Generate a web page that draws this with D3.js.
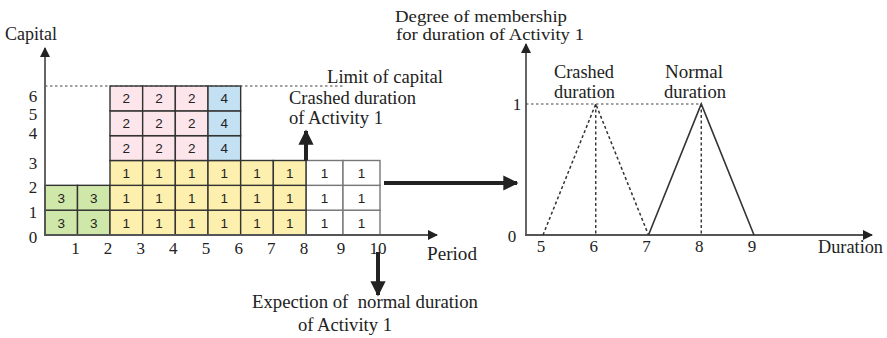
<!DOCTYPE html>
<html>
<head>
<meta charset="utf-8">
<script src="https://cdn.jsdelivr.net/npm/d3@7"></script>
<style>
  body { margin: 0; background: #fff; }
  svg { display: block; }
  .serif { font-family: "Liberation Serif", "Times New Roman", serif; fill: #222; }
  .cellnum { font-family: "Liberation Sans", Arial, sans-serif; font-size: 13.5px; fill: #222; }
</style>
</head>
<body>
<svg id="chart" width="887" height="338"></svg>
<script>
// Capital schedule: blocks of unit cells (activity number, period span, capital span)
const activities = [3, 1, 2, 4, 1];
const periodStart = [0, 2, 2, 5, 8];
const periodEnd   = [2, 8, 5, 6, 10];
const capitalFrom = [0, 0, 3, 3, 0];
const capitalTo   = [2, 3, 6, 6, 3];
const blockFill   = ["#cfe8a9", "#fdf0ae", "#fce5eb", "#c3e1f3", "#ffffff"];
const blockStroke = ["#333", "#333", "#333", "#333", "#777"];

const periodTicks = [1, 2, 3, 4, 5, 6, 7, 8, 9, 10];
const capitalTicks = [0, 1, 2, 3, 4, 5, 6];
const capitalLimit = 6;

// Fuzzy membership of Activity 1's duration
const crashedDur = [5, 6, 7];
const crashedMem = [0, 1, 0];
const normalDur  = [7, 8, 9];
const normalMem  = [0, 1, 0];
const durationTicks = [5, 6, 7, 8, 9];

const svg = d3.select("#chart");
const ink = "#222";

svg.append("defs").selectAll("marker")
  .data([{ id: "headThin", w: 14, h: 10 }, { id: "headThick", w: 4.2, h: 3.8 }])
  .join("marker")
  .attr("id", d => d.id)
  .attr("viewBox", "0 0 10 10")
  .attr("refX", 9).attr("refY", 5)
  .attr("markerUnits", d => d.id === "headThin" ? "userSpaceOnUse" : "strokeWidth")
  .attr("markerWidth", d => d.w).attr("markerHeight", d => d.h)
  .attr("orient", "auto")
  .append("path").attr("d", "M0,0 L10,5 L0,10 Z").attr("fill", ink);

// serif caption helper: start x, baseline y, fitted width
function label(g, str, x0, y0, w, size = 18) {
  return g.append("text").attr("class", "serif")
    .attr("x", x0).attr("y", y0).attr("font-size", size)
    .attr("textLength", w).attr("lengthAdjust", "spacingAndGlyphs")
    .attr("xml:space", "preserve")
    .text(str);
}

// ---------- left panel: capital vs period ----------
const x = d3.scaleLinear().domain([0, 2, 8, 10]).range([45, 110, 306, 380]);
const y = d3.scaleLinear().domain([0, 6]).range([235, 86]);

const cells = [];
activities.forEach((a, i) => {
  d3.range(periodStart[i], periodEnd[i]).forEach(p => {
    d3.range(capitalFrom[i], capitalTo[i]).forEach(c => {
      cells.push({ a, p, c, fill: blockFill[i], stroke: blockStroke[i] });
    });
  });
});

const left = svg.append("g");
const cellG = left.selectAll("g.cell").data(cells).join("g").attr("class", "cell");
cellG.append("rect")
  .attr("x", d => x(d.p)).attr("y", d => y(d.c + 1))
  .attr("width", d => x(d.p + 1) - x(d.p))
  .attr("height", d => y(d.c) - y(d.c + 1))
  .attr("fill", d => d.fill)
  .attr("stroke", d => d.stroke).attr("stroke-width", 1.4);
// dark-bordered cells go on top so shared edges stay dark
cellG.filter(d => d.stroke === "#333").raise();
cellG.append("text").attr("class", "cellnum")
  .attr("x", d => (x(d.p) + x(d.p + 1)) / 2)
  .attr("y", d => (y(d.c) + y(d.c + 1)) / 2 + 5)
  .attr("text-anchor", "middle")
  .text(d => d.a);

// limit of capital
left.append("line")
  .attr("x1", x(0)).attr("x2", 345)
  .attr("y1", y(capitalLimit)).attr("y2", y(capitalLimit))
  .attr("stroke", "#444").attr("stroke-width", 1.2).attr("stroke-dasharray", "2.5,2.5");

// axes
left.append("line").attr("x1", x(0)).attr("x2", x(0)).attr("y1", y(0) + 1).attr("y2", 48)
  .attr("stroke", "#555").attr("stroke-width", 1.8).attr("marker-end", "url(#headThin)");
left.append("line").attr("x1", x(0) - 1).attr("x2", 437).attr("y1", y(0)).attr("y2", y(0))
  .attr("stroke", "#555").attr("stroke-width", 1.8).attr("marker-end", "url(#headThin)");

// capital labels sit a little below their grid lines; the top ones are nudged down more
const yLabelShift = d => (d === 6 ? 16 : d === 5 ? 9 : d === 4 ? 3 : 8);
left.selectAll("text.yt").data(capitalTicks).join("text").attr("class", "serif yt")
  .attr("x", 33).attr("y", d => y(d) + yLabelShift(d))
  .attr("text-anchor", "middle").attr("font-size", 17).text(d => d);
left.selectAll("text.xt").data(periodTicks).join("text").attr("class", "serif xt")
  .attr("x", d => x(d) - 2).attr("y", 254)
  .attr("text-anchor", "middle").attr("font-size", 17).text(d => d);

label(left, "Capital", 5, 40, 52);
label(left, "Period", 427, 260, 50);
label(left, "Limit of capital", 327, 83, 116);
label(left, "Crashed duration", 289, 104, 127);
label(left, "of Activity 1", 289, 124, 94);

// crashed-duration arrow (up) and normal-duration arrow (down)
left.append("line").attr("x1", x(8)).attr("x2", x(8)).attr("y1", y(3)).attr("y2", 131)
  .attr("stroke", ink).attr("stroke-width", 4).attr("marker-end", "url(#headThick)");
left.append("line").attr("x1", 378).attr("x2", 378).attr("y1", 252).attr("y2", 295)
  .attr("stroke", ink).attr("stroke-width", 4).attr("marker-end", "url(#headThick)");
label(left, "Expection of  normal duration", 252, 308, 226);
label(left, "of Activity 1", 298, 331, 94);

// transfer arrow between panels
svg.append("line").attr("x1", 384).attr("x2", 517).attr("y1", 183).attr("y2", 183)
  .attr("stroke", ink).attr("stroke-width", 4).attr("marker-end", "url(#headThick)");

// ---------- right panel: membership vs duration ----------
const xd = d3.scaleLinear().domain([5, 9]).range([543, 754]);
const ym = d3.scaleLinear().domain([0, 1]).range([235, 104]);
const right = svg.append("g");
const ox = 526;

right.append("line").attr("x1", ox).attr("x2", ox).attr("y1", ym(0) + 1).attr("y2", 44)
  .attr("stroke", "#555").attr("stroke-width", 1.8).attr("marker-end", "url(#headThin)");
right.append("line").attr("x1", ox - 1).attr("x2", 872).attr("y1", ym(0)).attr("y2", ym(0))
  .attr("stroke", "#555").attr("stroke-width", 1.8).attr("marker-end", "url(#headThin)");

// membership = 1 reference line
right.append("line").attr("x1", ox).attr("x2", xd(8)).attr("y1", ym(1)).attr("y2", ym(1))
  .attr("stroke", "#444").attr("stroke-width", 1.2).attr("stroke-dasharray", "2.5,2.5");
// peak drop lines
right.selectAll("line.peak").data([crashedDur[1], normalDur[1]]).join("line").attr("class", "peak")
  .attr("x1", d => xd(d)).attr("x2", d => xd(d)).attr("y1", ym(1)).attr("y2", ym(0))
  .attr("stroke", "#333").attr("stroke-width", 1.4).attr("stroke-dasharray", "3,2.5");

const line = d3.line().x(d => xd(d[0])).y(d => ym(d[1]));
right.append("path").datum(d3.zip(crashedDur, crashedMem)).attr("d", line)
  .attr("fill", "none").attr("stroke", "#333").attr("stroke-width", 1.5).attr("stroke-dasharray", "3,2.5");
right.append("path").datum(d3.zip(normalDur, normalMem)).attr("d", line)
  .attr("fill", "none").attr("stroke", "#333").attr("stroke-width", 1.6);

right.selectAll("text.dt").data(durationTicks).join("text").attr("class", "serif dt")
  .attr("x", d => xd(d) - 2).attr("y", 252)
  .attr("text-anchor", "middle").attr("font-size", 17).text(d => d);
right.append("text").attr("class", "serif").attr("x", 512).attr("y", 242)
  .attr("text-anchor", "middle").attr("font-size", 17).text("0");
right.append("text").attr("class", "serif").attr("x", 517).attr("y", 110)
  .attr("text-anchor", "middle").attr("font-size", 17).text("1");

label(right, "Degree of membership", 395, 22, 172, 16.5);
label(right, "for duration of Activity 1", 396, 40, 188, 16.5);
label(right, "Crashed", 554, 78, 60);
label(right, "duration", 554, 98, 61);
label(right, "Normal", 665, 78, 58);
label(right, "duration", 664, 98, 62);
label(right, "Duration", 818, 253, 65);
</script>
</body>
</html>
